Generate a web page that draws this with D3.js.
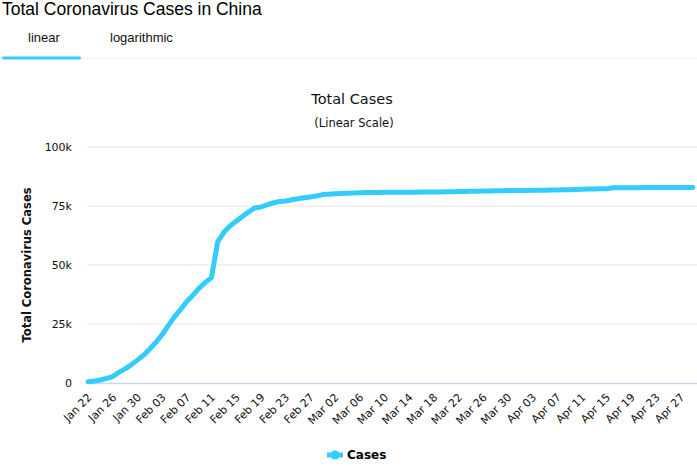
<!DOCTYPE html>
<html>
<head>
<meta charset="utf-8">
<script src="https://cdn.jsdelivr.net/npm/d3@7"></script>
<style>
  body { margin: 0; background: #fff; }
  svg { display: block; }
</style>
</head>
<body>
<div id="chart"></div>
<script>
// daily cumulative cases, China, starting Jan 22 2020
const startDay = new Date(2020, 0, 22);
const cases = [
  571, 830, 1287, 1975, 2744, 4515, 5974, 7711, 9692, 11791,
  14380, 17205, 20438, 24324, 28018, 31161, 34546, 37198, 40171, 42638,
  44653, 59804, 63851, 66492, 68500, 70548, 72436, 74185, 74576, 75465,
  76288, 76936, 77150, 77658, 78064, 78497, 78824, 79251, 79824, 80026,
  80151, 80270, 80409, 80552, 80651, 80695, 80735, 80754, 80778, 80793,
  80813, 80824, 80844, 80860, 80881, 80894, 80928, 80967, 81008, 81054,
  81093, 81171, 81218, 81285, 81340, 81394, 81439, 81470, 81518, 81554,
  81589, 81620, 81639, 81669, 81708, 81740, 81802, 81865, 81907, 81953,
  82052, 82160, 82249, 82295, 82341, 82692, 82719, 82735, 82747, 82758,
  82788, 82798, 82804, 82816, 82827, 82830, 82836, 82858, 82862
];
const yTicks = [0, 25000, 50000, 75000, 100000];
const yTickLabels = ["0", "25k", "50k", "75k", "100k"];
const tabs = ["linear", "logarithmic"];

const width = 697, height = 466;
const margin = { left: 88, right: 4, top: 147, bottom: 83 };

const dates = cases.map((d, i) => d3.timeDay.offset(startDay, i));
const data = cases.map((v, i) => ({ date: dates[i], value: v }));

const svg = d3.select("#chart").append("svg")
  .attr("width", width)
  .attr("height", height);

// header
svg.append("text")
  .attr("x", 2).attr("y", 15)
  .style("font-family", "Liberation Sans, Arial, sans-serif")
  .style("font-size", "17.5px")
  .style("fill", "#000")
  .text("Total Coronavirus Cases in China");

svg.append("line")
  .attr("x1", 0).attr("x2", width)
  .attr("y1", 58).attr("y2", 58)
  .attr("stroke", "#eeeeee").attr("stroke-width", 1);

svg.selectAll(".tab")
  .data(tabs)
  .enter().append("text")
  .attr("class", "tab")
  .attr("x", (d, i) => i === 0 ? 28 : 110)
  .attr("y", 42)
  .style("font-family", "Liberation Sans, Arial, sans-serif")
  .style("font-size", "13px")
  .style("fill", "#111")
  .text((d) => d);

svg.append("rect")
  .attr("x", 2).attr("y", 56.5)
  .attr("width", 79).attr("height", 3)
  .attr("rx", 1.5)
  .attr("fill", "#33ccff");

// chart titles
const titleFont = "DejaVu Sans, Verdana, sans-serif";
svg.append("text")
  .attr("x", 352).attr("y", 104)
  .attr("text-anchor", "middle")
  .style("font-family", titleFont)
  .style("font-size", "14.5px")
  .style("fill", "#111")
  .text("Total Cases");

svg.append("text")
  .attr("x", 354).attr("y", 127)
  .attr("text-anchor", "middle")
  .style("font-family", titleFont)
  .style("font-size", "11.5px")
  .style("fill", "#111")
  .text("(Linear Scale)");

// scales
const x = d3.scaleTime()
  .domain([dates[0], dates[dates.length - 1]])
  .range([margin.left, width - margin.right]);

const y = d3.scaleLinear()
  .domain([0, 100000])
  .range([height - margin.bottom, margin.top]);

// grid
svg.append("g")
  .selectAll("line")
  .data(yTicks.slice(1))
  .enter().append("line")
  .attr("x1", margin.left - 1)
  .attr("x2", width)
  .attr("y1", (d) => y(d))
  .attr("y2", (d) => y(d))
  .attr("stroke", "#e6e6e6")
  .attr("stroke-width", 1);

// y axis
const yAxis = d3.axisLeft(y)
  .tickValues(yTicks)
  .tickFormat((d, i) => yTickLabels[i])
  .tickSize(0)
  .tickPadding(0);

const yAxisGroup = svg.append("g")
  .attr("transform", `translate(${margin.left - 16},0)`)
  .call(yAxis);
yAxisGroup.select(".domain").remove();
yAxisGroup.selectAll(".tick text")
  .attr("dy", "0.35em")
  .style("font-family", titleFont)
  .style("font-size", "11px")
  .style("fill", "#111");

svg.append("text")
  .attr("transform", `translate(31,${(y(0) + y(100000)) / 2}) rotate(-90)`)
  .attr("text-anchor", "middle")
  .style("font-family", titleFont)
  .style("font-size", "11.5px")
  .style("font-weight", "bold")
  .style("fill", "#111")
  .text("Total Coronavirus Cases");

// x axis
const xTickValues = dates.filter((d, i) => i % 4 === 0);
const xAxis = d3.axisBottom(x)
  .tickValues(xTickValues)
  .tickFormat(d3.timeFormat("%b %d"))
  .tickSize(0)
  .tickPadding(0);

const xAxisGroup = svg.append("g")
  .attr("transform", `translate(0,${y(0)})`)
  .call(xAxis);
xAxisGroup.select(".domain").remove();
xAxisGroup.selectAll(".tick text")
  .attr("text-anchor", "end")
  .attr("dy", null)
  .attr("y", 0)
  .attr("transform", "translate(4,15) rotate(-45)")
  .style("font-family", titleFont)
  .style("font-size", "11px")
  .style("fill", "#111");

svg.append("line")
  .attr("x1", margin.left - 1)
  .attr("x2", width)
  .attr("y1", y(0) + 0.5)
  .attr("y2", y(0) + 0.5)
  .attr("stroke", "#ccd6eb")
  .attr("stroke-width", 1.5);

// series
const line = d3.line()
  .x((d) => x(d.date))
  .y((d) => y(d.value));

svg.append("path")
  .datum(data)
  .attr("d", line)
  .attr("fill", "none")
  .attr("stroke", "#33ccff")
  .attr("stroke-width", 5)
  .attr("stroke-linejoin", "round")
  .attr("stroke-linecap", "round");

// legend
const legend = svg.append("g").attr("transform", "translate(327,455)");
legend.append("line")
  .attr("x1", 0).attr("x2", 16)
  .attr("stroke", "#33ccff").attr("stroke-width", 5);
legend.append("circle")
  .attr("cx", 8).attr("r", 4.5)
  .attr("fill", "#33ccff");
legend.append("text")
  .attr("x", 20).attr("y", 0)
  .attr("dy", "0.35em")
  .style("font-family", titleFont)
  .style("font-size", "12px")
  .style("font-weight", "bold")
  .style("fill", "#000")
  .text("Cases");
</script>
</body>
</html>
